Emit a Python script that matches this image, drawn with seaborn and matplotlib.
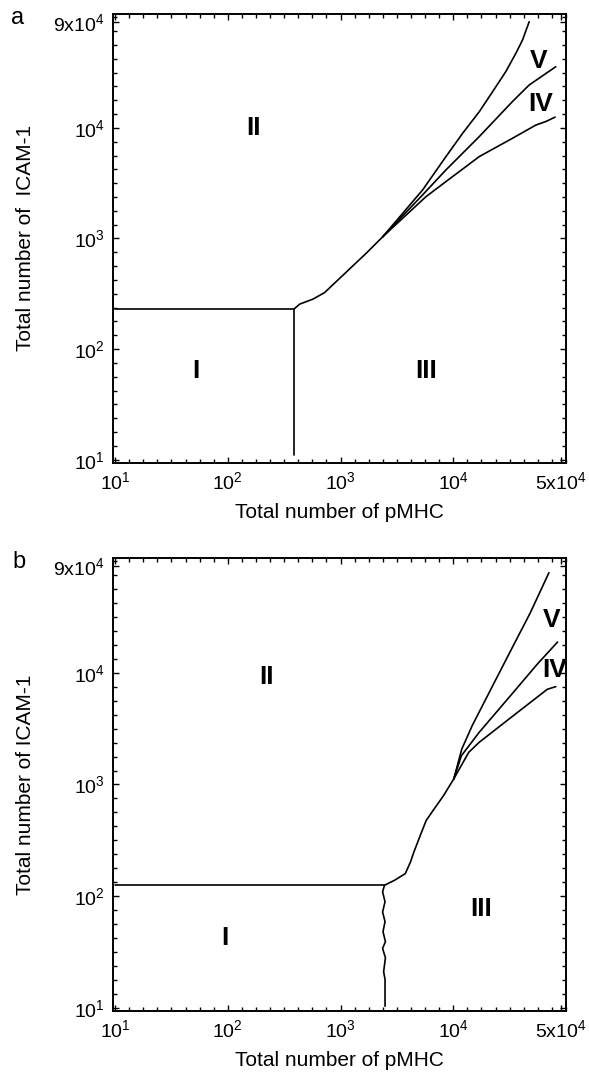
import numpy as np
import matplotlib
matplotlib.use("Agg")
import matplotlib.pyplot as plt
import seaborn as sns

sns.set_theme(style="ticks")
plt.rcParams['font.family'] = ['Liberation Sans', 'DejaVu Sans']
plt.rcParams['mathtext.fontset'] = 'custom'
plt.rcParams['mathtext.rm'] = 'Liberation Sans'
plt.rcParams['mathtext.it'] = 'Liberation Sans:italic'
plt.rcParams['mathtext.bf'] = 'Liberation Sans:bold'
plt.rcParams['text.color'] = 'black'
plt.rcParams['axes.labelcolor'] = 'black'

# ---- panel a: phase boundaries (pMHC, ICAM-1) ----
a_I_II_pmhc = [10, 386]
a_I_II_icam = [230, 230]
a_I_III_pmhc = [386, 386]
a_I_III_icam = [230, 11]
a_trunk_pmhc = [386, 434, 569, 721, 1690, 2370]
a_trunk_icam = [230, 255, 283, 324, 736, 1038]
a_V_pmhc = [2370, 5350, 8610, 12100, 17000, 22300, 29200, 35900, 41100, 47100]
a_V_icam = [1038, 2750, 5500, 8930, 14000, 21200, 32200, 47200, 62200, 91000]
a_mid_pmhc = [2370, 5350, 8610, 17000, 33500, 47100, 81100]
a_mid_icam = [1038, 2480, 4170, 8340, 17300, 24400, 35700]
a_IV_pmhc = [2370, 5730, 8610, 17000, 33500, 54000, 66100, 80000]
a_IV_icam = [1038, 2390, 3270, 5500, 8050, 10600, 11400, 12500]

# ---- panel b ----
b_I_II_pmhc = [10, 2450]
b_I_II_icam = [125, 125]
b_I_III_pmhc = [2450, 2360, 2480, 2360, 2480, 2380, 2500, 2360, 2500, 2410, 2480, 2480]
b_I_III_icam = [125, 109, 89, 72, 59, 48, 39, 34, 28, 21, 18, 10.3]
b_trunk_pmhc = [2450, 3030, 3750, 4170, 4470, 5160, 5740, 6620, 8200, 10100]
b_trunk_icam = [125, 139, 159, 202, 248, 361, 475, 585, 796, 1122]
b_V_pmhc = [10100, 11900, 14700, 22300, 33900, 48100, 70500]
b_V_icam = [1122, 2080, 3360, 7640, 17400, 34400, 79000]
b_mid_pmhc = [10100, 11800, 16900, 33900, 55300, 84100]
b_mid_icam = [1122, 1810, 2920, 6650, 11900, 18900]
b_IV_pmhc = [10100, 13700, 16900, 33900, 68200, 81100]
b_IV_icam = [1122, 1940, 2380, 4120, 7130, 7530]

# region names and where they sit (data coords)
region_names = ['I', 'II', 'III', 'IV', 'V']
a_region_pmhc = [52, 170, 5770, 60000, 57000]
a_region_icam = [63, 10000, 63, 16600, 40000]
b_region_pmhc = [95, 220, 17500, 80100, 73800]
b_region_icam = [42, 9100, 76, 10700, 29900]

x_ticks = [10, 100, 1000, 10000, 90000]
x_ticklabels = ['10$^1$', '10$^2$', '10$^3$', '10$^4$', '5x10$^4$']
y_ticks = [10, 100, 1000, 10000, 90000]
y_ticklabels = ['10$^1$', '10$^2$', '10$^3$', '10$^4$', '9x10$^4$']


def draw_panel(ax, curves, reg_x, reg_y, ylabel, xlabel_y):
    for xs, ys in curves:
        sns.lineplot(x=xs, y=ys, sort=False, estimator=None, color='black',
                     linewidth=1.2, ax=ax)
    ax.set_xscale('log')
    ax.set_yscale('log')
    ax.set_xlim(9.6, 1.0e5)
    ax.set_ylim(9.4, 1.07e5)

    minor = 10 ** np.arange(1.0, 5.01, 0.125)
    ax.xaxis.set_minor_locator(matplotlib.ticker.FixedLocator(minor))
    ax.yaxis.set_minor_locator(matplotlib.ticker.FixedLocator(minor))
    ax.xaxis.set_minor_formatter(matplotlib.ticker.NullFormatter())
    ax.yaxis.set_minor_formatter(matplotlib.ticker.NullFormatter())
    ax.set_xticks(x_ticks)
    ax.set_xticklabels(x_ticklabels)
    ax.set_yticks(y_ticks)
    ax.set_yticklabels(y_ticklabels)
    ax.tick_params(which='both', direction='in', top=True, right=True,
                   color='black', width=1.0, labelsize=14, labelcolor='black')
    ax.tick_params(which='major', length=4, pad=6)
    ax.tick_params(which='minor', length=3)
    for s in ax.spines.values():
        s.set_color('black')
        s.set_linewidth(1.4)

    for name, x, y in zip(region_names, reg_x, reg_y):
        ax.text(x, y, name, fontsize=19, fontweight='bold', color='black',
                ha='center', va='center')

    ax.set_xlabel('Total number of pMHC', fontsize=15)
    ax.set_ylabel(ylabel, fontsize=15)
    ax.xaxis.set_label_coords(0.5, xlabel_y)
    ax.yaxis.set_label_coords(-0.172, 0.5)


fig = plt.figure(figsize=(5.89, 10.76), dpi=100)
ax_a = fig.add_axes([0.192, 0.570, 0.769, 0.417])
ax_b = fig.add_axes([0.192, 0.0607, 0.769, 0.4207])

draw_panel(ax_a,
           [(a_I_II_pmhc, a_I_II_icam), (a_I_III_pmhc, a_I_III_icam),
            (a_trunk_pmhc, a_trunk_icam), (a_V_pmhc, a_V_icam),
            (a_mid_pmhc, a_mid_icam), (a_IV_pmhc, a_IV_icam)],
           a_region_pmhc, a_region_icam, 'Total number of  ICAM-1', -0.09)
draw_panel(ax_b,
           [(b_I_II_pmhc, b_I_II_icam), (b_I_III_pmhc, b_I_III_icam),
            (b_trunk_pmhc, b_trunk_icam), (b_V_pmhc, b_V_icam),
            (b_mid_pmhc, b_mid_icam), (b_IV_pmhc, b_IV_icam)],
           b_region_pmhc, b_region_icam, 'Total number of ICAM-1', -0.09)

fig.text(18 / 589, 1 - 18 / 1076, 'a', fontsize=17, ha='center', va='center')
fig.text(19 / 589, 1 - 562 / 1076, 'b', fontsize=17, ha='center', va='center')

fig.savefig('out.png', dpi=100)
